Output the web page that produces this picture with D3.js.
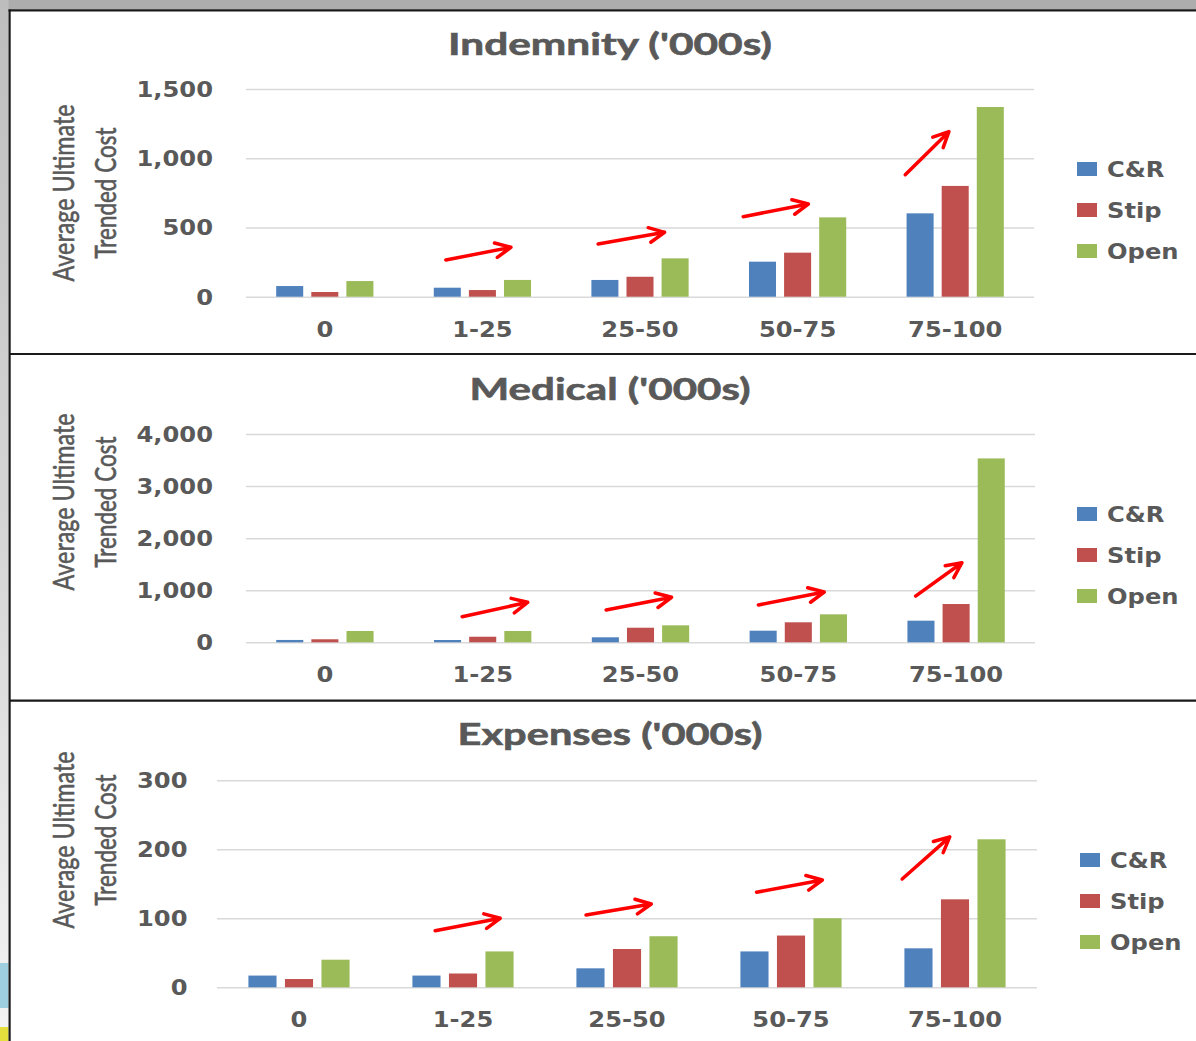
<!DOCTYPE html>
<html>
<head>
<meta charset="utf-8">
<script src="https://cdn.jsdelivr.net/npm/d3@7"></script>
<style>
  body { margin: 0; background: #fff; }
  svg { display: block; }
</style>
</head>
<body>
<div id="chart"></div>
<script>
// categories and series
const categories = ["0", "1-25", "25-50", "50-75", "75-100"];
const series = ["C&R", "Stip", "Open"];
const seriesColors = ["#4f81bd", "#c0504d", "#9bbb59"];

// Indemnity ('000s)
const indemnityCR = [77, 65, 121, 253, 602];
const indemnityStip = [34, 48, 144, 318, 800];
const indemnityOpen = [113, 121, 277, 573, 1370];
const indemnityTicks = [0, 500, 1000, 1500];

// Medical ('000s)
const medicalCR = [45, 44, 96, 223, 415];
const medicalStip = [58, 107, 280, 384, 735];
const medicalOpen = [217, 217, 326, 537, 3531];
const medicalTicks = [0, 1000, 2000, 3000, 4000];

// Expenses ('000s)
const expensesCR = [17, 17, 27.5, 52, 56.5];
const expensesStip = [12, 20, 55.5, 75, 127.5];
const expensesOpen = [40, 52, 74, 100, 214.5];
const expensesTicks = [0, 100, 200, 300];

// red hand drawn arrows: [category, tail offset (share of band), tail value, head offset, head value]
const indemnityArrows = [["1-25", -0.232, 265, 0.181, 357], ["25-50", -0.266, 381, 0.156, 465],
                         ["50-75", -0.345, 578, 0.068, 669], ["75-100", -0.317, 881, -0.04, 1192]];
const medicalArrows = [["1-25", -0.13, 491, 0.285, 768], ["25-50", -0.218, 620, 0.197, 864],
                       ["50-75", -0.253, 716, 0.164, 965], ["75-100", -0.257, 888, 0.037, 1528]];
const expensesArrows = [["1-25", -0.17, 82, 0.227, 100], ["25-50", -0.25, 104.8, 0.148, 120.7],
                        ["50-75", -0.21, 137.7, 0.191, 155.5], ["75-100", -0.322, 157, -0.032, 218]];

const W = 1196, H = 1041;
const textColor = "#595959";
const boldFont = "'DejaVu Sans', Verdana, sans-serif";
const stretchX = 1.18; // the picture is widened horizontally

const panels = [
    { title: "Indemnity ('000s)", titleW: 324, titleY: 55, values: [indemnityCR, indemnityStip, indemnityOpen],
      ticks: indemnityTicks, arrows: indemnityArrows,
      left: 246, right: 1034, top: 89, bottom: 296.7, tickRight: 213, yTitleY: 193, legendX: 1077, legendY: 169 },
    { title: "Medical ('000s)", titleW: 281, titleY: 400, values: [medicalCR, medicalStip, medicalOpen],
      ticks: medicalTicks, arrows: medicalArrows,
      left: 246, right: 1035, top: 434, bottom: 642.3, tickRight: 213, yTitleY: 502, legendX: 1077, legendY: 514 },
    { title: "Expenses ('000s)", titleW: 305, titleY: 745, values: [expensesCR, expensesStip, expensesOpen],
      ticks: expensesTicks, arrows: expensesArrows,
      left: 217, right: 1037, top: 780.3, bottom: 987.3, tickRight: 187.5, yTitleY: 840, legendX: 1080, legendY: 860 }
];

// widen text like the reference
function stretch(sel, k) {
    sel.each(function () {
        const w = this.getComputedTextLength();
        this.setAttribute("textLength", w * k);
        this.setAttribute("lengthAdjust", "spacingAndGlyphs");
    });
}

const svg = d3.select("#chart").append("svg")
    .attr("width", W)
    .attr("height", H);

// Frame / background from the slide
const defs = svg.append("defs");
const grad = defs.append("linearGradient").attr("id", "leftStrip")
    .attr("x1", 0).attr("y1", 0).attr("x2", 0).attr("y2", 1);
grad.append("stop").attr("offset", "0%").attr("stop-color", "#bdbdbd");
grad.append("stop").attr("offset", "60%").attr("stop-color", "#dadada");
grad.append("stop").attr("offset", "100%").attr("stop-color", "#f4f4f4");

svg.append("rect").attr("width", W).attr("height", H).attr("fill", "#fff");
svg.append("rect").attr("x", 0).attr("y", 0).attr("width", W).attr("height", 9.5).attr("fill", "#adadad");
svg.append("rect").attr("x", 0).attr("y", 0).attr("width", 8.5).attr("height", H).attr("fill", "url(#leftStrip)");
svg.append("rect").attr("x", 0).attr("y", 963).attr("width", 8.5).attr("height", 45).attr("fill", "#9ecfe0");
svg.append("rect").attr("x", 0).attr("y", 1027).attr("width", 8.5).attr("height", 14).attr("fill", "#e4df3c");

const frame = svg.append("g").attr("stroke", "#1a1a1a").attr("stroke-width", 2.2);
frame.append("line").attr("x1", 8.5).attr("x2", W).attr("y1", 10.4).attr("y2", 10.4);
frame.append("line").attr("x1", 9.6).attr("x2", 9.6).attr("y1", 9.5).attr("y2", H);
frame.append("line").attr("x1", 9).attr("x2", W).attr("y1", 354).attr("y2", 354);
frame.append("line").attr("x1", 9).attr("x2", W).attr("y1", 700.7).attr("y2", 700.7);

panels.forEach(p => {
    const g = svg.append("g");

    const x0 = d3.scaleBand()
        .domain(categories)
        .range([p.left, p.right])
        .padding(0);

    const x1 = d3.scaleBand()
        .domain(series)
        .range([0, x0.bandwidth()])
        .paddingInner(0.23)
        .paddingOuter(0.86);

    const y = d3.scaleLinear()
        .domain([0, d3.max(p.ticks)])
        .range([p.bottom, p.top]);

    // Y axis with gridlines
    const yAxis = g.append("g")
        .attr("transform", `translate(${p.left},0)`)
        .call(d3.axisLeft(y).tickValues(p.ticks).tickSize(-(p.right - p.left)).tickFormat(d3.format(",")));
    yAxis.select(".domain").remove();
    yAxis.selectAll(".tick line").attr("stroke", "#d9d9d9").attr("stroke-width", 1.5);
    yAxis.selectAll(".tick text")
        .attr("x", p.tickRight - p.left)
        .attr("dy", "0.36em")
        .attr("fill", textColor)
        .style("font-family", boldFont)
        .style("font-weight", "bold")
        .style("font-size", "20.5px");
    stretch(yAxis.selectAll(".tick text"), stretchX);

    // Bars
    g.append("g").selectAll("g")
        .data(categories)
        .join("g")
        .attr("transform", d => `translate(${x0(d)},0)`)
        .selectAll("rect")
        .data((d, i) => series.map((s, j) => ({ key: s, color: seriesColors[j], value: p.values[j][i] })))
        .join("rect")
        .attr("x", d => x1(d.key))
        .attr("y", d => y(d.value))
        .attr("width", x1.bandwidth())
        .attr("height", d => y(0) - y(d.value))
        .attr("fill", d => d.color);

    // X axis labels
    const xAxis = g.append("g")
        .attr("transform", `translate(0,${p.bottom})`)
        .call(d3.axisBottom(x0).tickSize(0));
    xAxis.select(".domain").remove();
    xAxis.selectAll(".tick text")
        .attr("y", 40)
        .attr("dy", 0)
        .attr("fill", textColor)
        .style("font-family", boldFont)
        .style("font-weight", "bold")
        .style("font-size", "20.5px");
    stretch(xAxis.selectAll(".tick text"), stretchX);

    // Title
    g.append("text")
        .attr("x", 610)
        .attr("y", p.titleY)
        .attr("text-anchor", "middle")
        .attr("fill", textColor)
        .attr("stroke", textColor)
        .attr("stroke-width", 0.6)
        .attr("textLength", p.titleW)
        .attr("lengthAdjust", "spacingAndGlyphs")
        .style("font-family", "Lato, 'Open Sans', sans-serif")
        .style("font-weight", "bold")
        .style("font-size", "30px")
        .text(p.title);

    // Y axis title, two lines, rotated
    const yt = g.append("g")
        .attr("transform", `translate(0,${p.yTitleY}) scale(${stretchX},1) rotate(-90)`)
        .attr("fill", textColor)
        .attr("stroke", textColor)
        .attr("stroke-width", 0.5)
        .style("font-family", "Lato, sans-serif")
        .style("font-size", "25px");
    yt.append("text")
        .attr("x", 0).attr("y", 63)
        .attr("text-anchor", "middle")
        .attr("textLength", 177)
        .attr("lengthAdjust", "spacingAndGlyphs")
        .text("Average Ultimate");
    yt.append("text")
        .attr("x", 0).attr("y", 98.5)
        .attr("text-anchor", "middle")
        .attr("textLength", 131)
        .attr("lengthAdjust", "spacingAndGlyphs")
        .text("Trended Cost");

    // Legend
    const legend = g.append("g").selectAll("g")
        .data(series)
        .join("g")
        .attr("transform", (d, i) => `translate(${p.legendX},${p.legendY + i * 41})`);
    legend.append("rect")
        .attr("x", 0).attr("y", -7)
        .attr("width", 20).attr("height", 14)
        .attr("fill", (d, i) => seriesColors[i]);
    const legendText = legend.append("text")
        .attr("x", 30)
        .attr("y", 7.5)
        .attr("fill", textColor)
        .style("font-family", boldFont)
        .style("font-weight", "bold")
        .style("font-size", "20.5px")
        .text(d => d);
    stretch(legendText, stretchX);

    // Red arrows
    const arrows = g.append("g")
        .attr("stroke", "#ff0000")
        .attr("stroke-width", 3.5)
        .attr("stroke-linecap", "round")
        .attr("stroke-linejoin", "round")
        .attr("fill", "none");
    p.arrows.forEach(a => {
        const cx = x0(a[0]) + x0.bandwidth() / 2;
        const xt = cx + a[1] * x0.bandwidth(), yt0 = y(a[2]);
        const xh = cx + a[3] * x0.bandwidth(), yh = y(a[4]);
        const ang = Math.atan2(yh - yt0, xh - xt);
        const len = 17, spread = 0.45;
        const w1 = [xh - len * Math.cos(ang - spread), yh - len * Math.sin(ang - spread)];
        const w2 = [xh - len * Math.cos(ang + spread), yh - len * Math.sin(ang + spread)];
        arrows.append("path")
            .attr("d", `M${xt},${yt0}L${xh},${yh}M${w1[0]},${w1[1]}L${xh},${yh}L${w2[0]},${w2[1]}`);
    });
});
</script>
</body>
</html>
